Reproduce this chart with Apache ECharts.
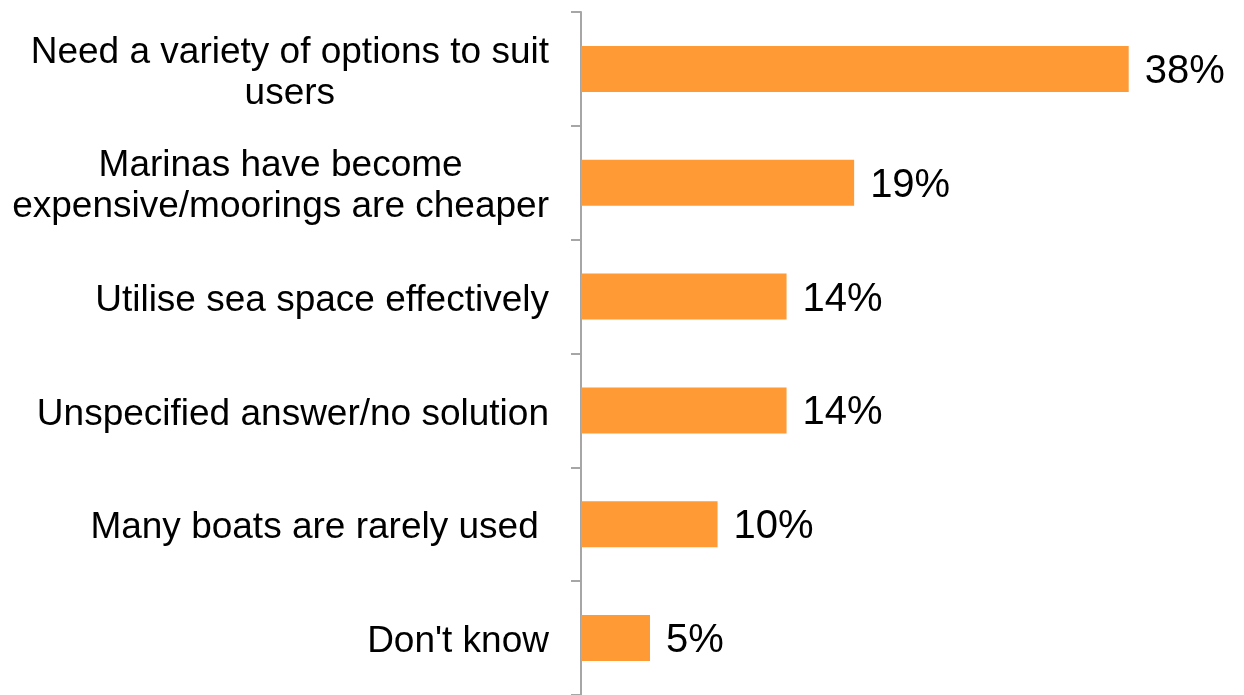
<!DOCTYPE html>
<html>
<head>
<meta charset="utf-8">
<script src="https://cdn.jsdelivr.net/npm/echarts@6/dist/echarts.min.js"></script>
<style>
  html, body { margin: 0; padding: 0; background: #fff; }
  #chart { width: 1244px; height: 695px; }
</style>
</head>
<body>
<div id="chart"></div>
<script>
// categories, top to bottom
const categories = [
  'Need a variety of options to suit\nusers',
  'Marinas have become\nexpensive/moorings are cheaper',
  'Utilise sea space effectively',
  'Unspecified answer/no solution',
  'Many boats are rarely used ',
  "Don't know"
];
// share of respondents (%)
const shares = [38.1, 19.0, 14.3, 14.3, 9.5, 4.8];

const chart = echarts.init(document.getElementById('chart'));

const option = {
  animation: false,
  grid: { left: 581, right: 88, top: 12, bottom: -6 },
  xAxis: {
    type: 'value',
    min: 0,
    max: 40,
    show: false
  },
  yAxis: {
    type: 'category',
    inverse: true,
    data: categories,
    axisLine: { show: true, lineStyle: { color: '#a6a6a6', width: 2 } },
    axisTick: { show: true, length: 10, lineStyle: { color: '#a6a6a6', width: 2 } },
    axisLabel: {
      margin: 32,
      padding: [8, 0, 0, 0],
      formatter: function (v) {
        return v.split('\n').map(s => '{c|' + s + '}').join('\n');
      },
      rich: {
        c: {
          align: 'center',
          fontFamily: 'Liberation Sans, Arial, sans-serif',
          fontSize: 37,
          lineHeight: 41,
          color: '#000'
        }
      }
    }
  },
  series: [{
    type: 'bar',
    data: shares,
    barWidth: 46,
    itemStyle: { color: '#ff9a35' },
    label: {
      show: true,
      position: 'right',
      distance: 16,
      offset: [0, 3],
      fontFamily: 'Liberation Sans, Arial, sans-serif',
      fontSize: 40,
      color: '#000',
      formatter: p => Math.round(p.value) + '%'
    }
  }]
};

chart.setOption(option);
</script>
</body>
</html>
